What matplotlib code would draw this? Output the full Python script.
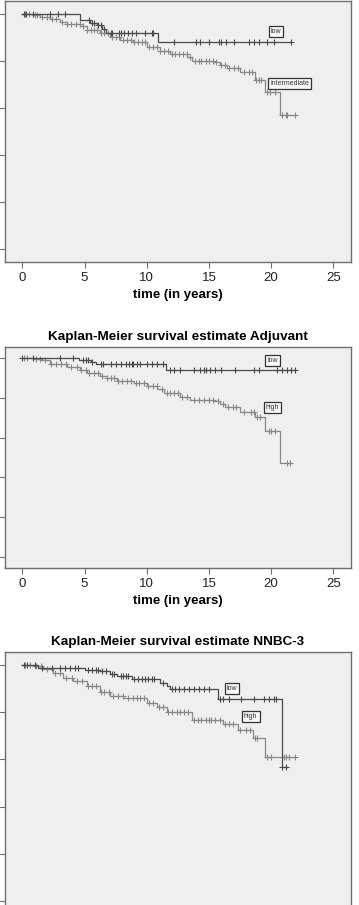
import numpy as np
import matplotlib
matplotlib.use("Agg")
import matplotlib.pyplot as plt

plt.rcParams['font.family'] = ['Liberation Sans', 'DejaVu Sans']

# ---- panel 1 (title cut off) : low vs intermediate ----
p1_low_t = [0, 4.64, 5.44, 5.98, 6.38, 6.73, 10.93]
p1_low_s = [1.0, 0.973, 0.962, 0.952, 0.938, 0.921, 0.882]
p1_low_end = 21.6
p1_low_cens = [0.1, 0.3, 0.9, 2.2, 2.9, 3.4, 5.4, 5.6, 5.8, 6.1, 6.3, 6.6, 7.1, 7.2, 7.8, 7.9,
               8.2, 8.5, 8.8, 9.1, 9.9, 10.4, 10.5, 12.2, 14.0, 14.3, 15.0, 15.8, 16.0, 16.4,
               17.0, 18.2, 18.6, 19.0, 19.7, 20.2, 21.6]

p1_int_t = [0, 0.88, 1.42, 2.22, 3.03, 3.56, 4.64, 5.17, 6.24, 7.05, 7.85, 8.92, 9.99, 11.07,
            11.87, 13.21, 13.61, 15.35, 15.89, 16.43, 17.5, 18.7, 19.5, 20.71]
p1_int_s = [1.0, 0.995, 0.987, 0.980, 0.966, 0.956, 0.948, 0.931, 0.917, 0.903, 0.889, 0.879,
            0.861, 0.844, 0.828, 0.818, 0.800, 0.797, 0.783, 0.769, 0.751, 0.720, 0.670, 0.572]
p1_int_end = 21.9
p1_int_cens = [0.2, 0.5, 1.0, 1.2, 1.6, 2.0, 2.4, 2.7, 3.2, 3.6, 3.9, 4.3, 4.6, 4.9, 5.2, 5.5,
               5.8, 6.0, 6.3, 6.6, 6.9, 7.2, 7.5, 7.8, 8.1, 8.4, 8.7, 9.0, 9.3, 9.6, 9.9, 10.2,
               10.5, 10.8, 11.1, 11.4, 11.7, 12.0, 12.3, 12.6, 12.9, 13.2, 13.5, 13.9, 14.2,
               14.4, 14.8, 15.0, 15.3, 15.6, 16.0, 16.3, 16.6, 17.0, 17.3, 17.8, 18.2, 18.5,
               18.8, 19.0, 19.2, 19.7, 19.9, 20.3, 20.9, 21.2, 21.3, 21.9]

# ---- panel 2 : Adjuvant ----
p2_low_t = [0, 4.52, 5.5, 5.9, 11.54]
p2_low_s = [1.0, 0.988, 0.980, 0.972, 0.938]
p2_low_end = 21.9
p2_low_cens = [0.0, 0.9, 3.05, 4.1, 4.9, 5.1, 5.3, 5.6, 6.3, 6.5, 7.1, 7.5, 7.9, 8.3, 8.6, 8.8,
               8.9, 9.2, 9.5, 10.0, 10.4, 10.8, 11.3, 11.9, 12.2, 12.7, 13.8, 14.3, 14.6, 14.8,
               15.1, 15.5, 16.0, 17.1, 18.6, 19.0, 20.5, 20.9, 21.3, 21.6, 21.9]

p2_high_t = [0, 0.91, 1.45, 2.25, 3.59, 4.66, 5.19, 6.26, 6.80, 7.60, 8.94, 10.01, 10.81, 11.35,
             12.69, 13.49, 15.36, 15.90, 16.30, 17.51, 18.71, 19.51, 20.72]
p2_high_s = [1.0, 0.997, 0.988, 0.972, 0.955, 0.938, 0.925, 0.908, 0.897, 0.885, 0.872, 0.858,
             0.842, 0.822, 0.805, 0.788, 0.785, 0.768, 0.752, 0.730, 0.702, 0.635, 0.472]
p2_high_end = 21.52
p2_high_cens = [0.1, 0.4, 1.1, 1.4, 1.8, 2.3, 2.7, 3.1, 3.5, 3.9, 4.4, 4.7, 5.1, 5.4, 5.8, 6.1,
                6.4, 6.8, 7.1, 7.4, 7.7, 8.0, 8.4, 8.7, 9.1, 9.4, 9.8, 10.1, 10.5, 10.8, 11.2,
                11.6, 11.9, 12.2, 12.5, 12.8, 13.2, 13.8, 14.2, 14.6, 15.0, 15.3, 15.7, 16.1,
                16.5, 16.9, 17.2, 17.8, 18.4, 18.6, 18.9, 19.1, 19.8, 20.0, 20.3, 21.3, 21.5]

# ---- panel 3 : NNBC-3 ----
p3_low_t = [0, 1.29, 5.04, 6.24, 7.05, 7.58, 8.79, 11.07, 11.60, 11.87, 15.76, 20.85]
p3_low_s = [1.0, 0.989, 0.979, 0.974, 0.960, 0.953, 0.939, 0.925, 0.913, 0.899, 0.854, 0.567]
p3_low_end = 21.25
p3_low_cens = [0.1, 0.4, 1.0, 1.6, 2.4, 3.0, 3.4, 3.8, 4.2, 4.5, 5.3, 5.6, 5.9, 6.1, 6.4, 6.7,
               7.2, 7.4, 7.9, 8.1, 8.3, 8.5, 9.0, 9.3, 9.6, 9.9, 10.1, 10.4, 10.6, 11.3, 12.0,
               12.3, 12.6, 13.0, 13.4, 13.8, 14.2, 14.6, 15.0, 15.9, 16.1, 16.6, 17.6, 18.6,
               19.4, 19.8, 20.2, 20.4, 20.9, 21.2]

p3_high_t = [0, 0.88, 1.69, 2.49, 3.30, 4.10, 5.17, 6.24, 7.05, 8.12, 9.99, 10.80, 11.60, 13.61,
             16.16, 17.36, 18.57, 19.51]
p3_high_s = [1.0, 0.996, 0.982, 0.965, 0.946, 0.932, 0.911, 0.885, 0.868, 0.858, 0.840, 0.823,
             0.800, 0.769, 0.752, 0.726, 0.691, 0.610]
p3_high_end = 21.92
p3_high_cens = [0.2, 0.6, 1.1, 1.5, 2.0, 2.6, 3.0, 3.5, 4.0, 4.4, 4.8, 5.3, 5.6, 5.9, 6.3, 6.6,
                7.0, 7.3, 7.7, 8.1, 8.5, 8.9, 9.2, 9.5, 9.8, 10.2, 10.5, 11.0, 11.3, 11.7, 12.0,
                12.4, 12.7, 13.0, 13.3, 13.8, 14.1, 14.4, 14.8, 15.0, 15.2, 15.5, 15.9, 16.3,
                16.6, 16.9, 17.5, 18.0, 18.3, 18.7, 18.9, 19.7, 20.0, 21.0, 21.2, 21.4, 21.9]

xticks = [0, 5, 10, 15, 20, 25]
yticks = [0.0, 0.2, 0.4, 0.6, 0.8, 1.0]

DARK = '#4a4a4a'
LIGHT = '#888888'
BG = '#efefef'
SPINE = '#6e6e6e'


def km(ax, t, s, end, cens, color):
    # step curve plus censor crosses
    tt = list(t) + [end]
    ss = list(s) + [s[-1]]
    ax.step(tt, ss, where='post', color=color, lw=0.9)
    idx = np.searchsorted(t, cens, side='right') - 1
    cy = np.array(s)[idx]
    ax.plot(cens, cy, ls='none', marker='+', ms=4, mew=0.8, color=color)


def label(ax, x, y, txt):
    ax.text(x, y, txt, fontsize=5, ha='center', va='center', color='#333333',
            bbox=dict(boxstyle='square,pad=0.3', fc='#f8f8f8', ec='#333333', lw=0.9))


def setup(ax, xaxis=True):
    ax.set_facecolor(BG)
    ax.set_xlim(-1.39, 26.42)
    ax.set_ylim(-0.055, 1.055)
    ax.set_yticks(yticks)
    ax.set_yticklabels([])
    for sp in ax.spines.values():
        sp.set_color(SPINE)
        sp.set_linewidth(1.0)
    ax.tick_params(axis='y', length=4, color=SPINE)
    if xaxis:
        ax.set_xticks(xticks)
        ax.set_xticklabels([str(v) for v in xticks], fontsize=9.5, color='#222222')
        ax.tick_params(axis='x', length=4, pad=3, color=SPINE)
        ax.set_xlabel('time (in years)', fontsize=9.5, fontweight='bold', labelpad=4)
    else:
        ax.set_xticks([])


W, H = 359, 905
fig = plt.figure(figsize=(W / 100, H / 100), dpi=100)


def axes_px(left, top, right, bottom):
    return fig.add_axes([left / W, 1 - bottom / H, (right - left) / W, (bottom - top) / H])


ax1 = axes_px(5, 1, 351, 262)
setup(ax1)
km(ax1, p1_int_t, p1_int_s, p1_int_end, p1_int_cens, LIGHT)
km(ax1, p1_low_t, p1_low_s, p1_low_end, p1_low_cens, DARK)
label(ax1, 20.4, 0.925, 'low')
label(ax1, 21.5, 0.705, 'intermediate')

ax2 = axes_px(5, 347, 351, 568)
setup(ax2)
km(ax2, p2_high_t, p2_high_s, p2_high_end, p2_high_cens, LIGHT)
km(ax2, p2_low_t, p2_low_s, p2_low_end, p2_low_cens, DARK)
label(ax2, 20.1, 0.989, 'low')
label(ax2, 20.1, 0.752, 'high')
ax2.set_title('Kaplan-Meier survival estimate Adjuvant', fontsize=9.7, fontweight='bold', pad=5)

ax3 = axes_px(5, 652, 351, 914)
setup(ax3, xaxis=False)
km(ax3, p3_high_t, p3_high_s, p3_high_end, p3_high_cens, LIGHT)
km(ax3, p3_low_t, p3_low_s, p3_low_end, p3_low_cens, DARK)
label(ax3, 16.85, 0.901, 'low')
label(ax3, 18.36, 0.780, 'high')
ax3.set_title('Kaplan-Meier survival estimate NNBC-3', fontsize=9.7, fontweight='bold', pad=5)

fig.savefig('out.png', dpi=100)
